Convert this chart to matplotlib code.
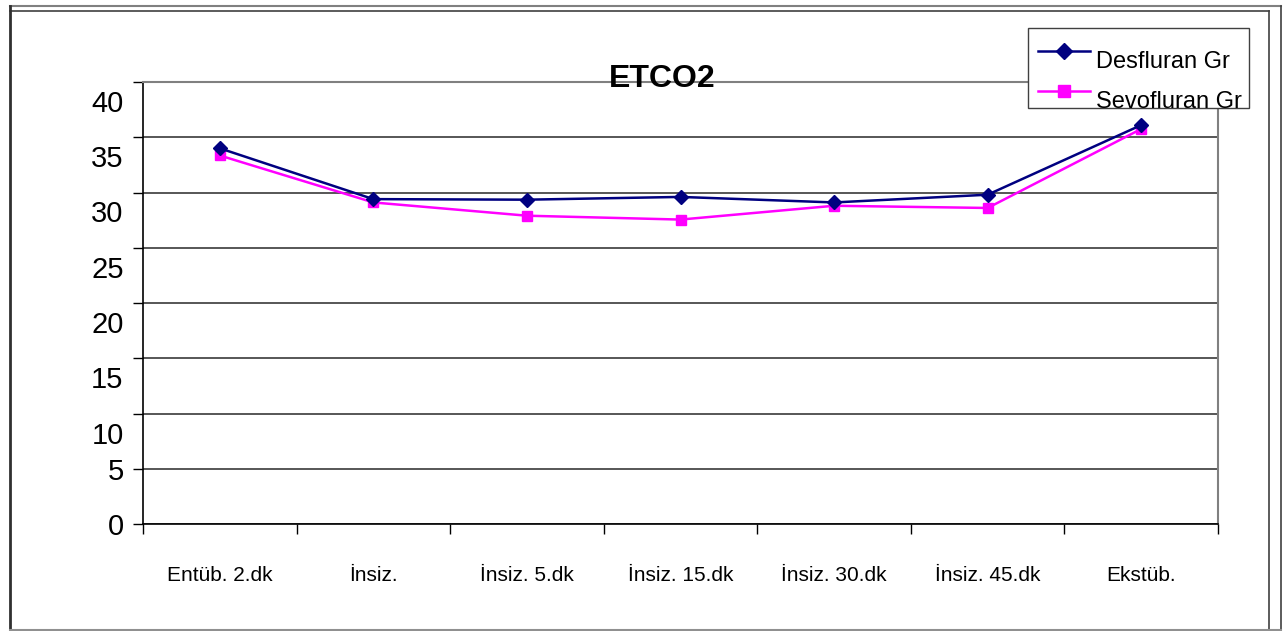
import matplotlib
matplotlib.use("Agg")
import matplotlib.pyplot as plt
from matplotlib.lines import Line2D
from matplotlib.patches import Rectangle
from matplotlib.transforms import ScaledTranslation

plt.rcParams['font.family'] = ['Liberation Sans', 'DejaVu Sans']

# --- Data ---
categories = ["Entüb. 2.dk", "İnsiz.", "İnsiz. 5.dk", "İnsiz. 15.dk",
              "İnsiz. 30.dk", "İnsiz. 45.dk", "Ekstüb."]
desfluran = [34.0, 29.4, 29.35, 29.6, 29.1, 29.8, 36.1]
sevofluran = [33.35, 29.1, 27.9, 27.55, 28.8, 28.6, 35.75]
series_names = ["Desfluran Gr", "Sevofluran Gr"]
y_ticks = [0, 5, 10, 15, 20, 25, 30, 35, 40]

W, H, DPI = 1287, 631, 100
fig = plt.figure(figsize=(W / DPI, H / DPI), dpi=DPI)
ax = fig.add_axes([143 / W, 1 - 524 / H, (1218 - 143) / W, (524 - 82) / H])

x = list(range(len(categories)))
line_des, = ax.plot(x, desfluran, color='#000080', lw=1.8, marker='D',
                    ms=7, zorder=4)
line_sevo, = ax.plot(x, sevofluran, color='#ff00ff', lw=1.8, marker='s',
                     ms=7.5, zorder=3)

ax.set_xlim(-0.5, len(categories) - 0.5)
ax.set_ylim(0, 40)

# horizontal grid
ax.set_yticks(y_ticks)
ax.set_yticklabels([str(v) for v in y_ticks], fontsize=21)
ax.yaxis.grid(True, color='#282828', lw=1.1)
ax.set_axisbelow(True)
ax.tick_params(axis='y', direction='out', length=7, width=1, pad=7)
# the upper labels sit a bit below their gridlines
for lab, v in zip(ax.get_yticklabels(), y_ticks):
    if v >= 10:
        lab.set_transform(lab.get_transform() +
                          ScaledTranslation(0, -0.19, fig.dpi_scale_trans))

# category labels centred, ticks between categories
ax.set_xticks(x)
ax.set_xticklabels(categories, fontsize=15)
ax.tick_params(axis='x', which='major', length=0, pad=30)
ax.set_xticks([i - 0.5 for i in range(len(categories) + 1)], minor=True)
ax.tick_params(axis='x', which='minor', direction='out', length=7, width=1)

for side in ['left', 'bottom']:
    ax.spines[side].set_color('black')
    ax.spines[side].set_linewidth(1.2)
for side in ['top', 'right']:
    ax.spines[side].set_color('#808080')
    ax.spines[side].set_linewidth(1.5)

fig.text(662 / W, 1 - 79 / H, "ETCO2", fontsize=23, fontweight='bold',
         ha='center', va='center', zorder=10)

# legend box
fig.patches.append(Rectangle((1028 / W, 1 - 108 / H), (1249 - 1028) / W,
                             (108 - 28) / H, transform=fig.transFigure,
                             facecolor='white', edgecolor='#404040', lw=1,
                             zorder=5))
for ln, name, yy in [(line_des, series_names[0], 51),
                     (line_sevo, series_names[1], 91)]:
    fy = 1 - yy / H
    fig.lines.append(Line2D([1038 / W, 1090 / W], [fy, fy],
                            transform=fig.transFigure, color=ln.get_color(),
                            lw=ln.get_linewidth(), zorder=6))
    fig.lines.append(Line2D([1064 / W], [fy], transform=fig.transFigure,
                            color=ln.get_color(), marker=ln.get_marker(),
                            ms=ln.get_markersize() + 1, zorder=7))
    fig.text(1096 / W, 1 - (yy + 11) / H, name, fontsize=17,
             ha='left', va='center', zorder=8)

# outer chart frame
frame_lines = [
    ([10, 1281], [6, 6], '#808080', 1.5),
    ([10, 1269], [11, 11], '#404040', 1.2),
    ([10, 10], [6, 630], '#303030', 2.0),
    ([1269, 1269], [11, 630], '#404040', 1.2),
    ([1281, 1281], [6, 630], '#404040', 1.2),
    ([10, 1281], [630, 630], '#909090', 1.5),
]
for xs, ys, c, w in frame_lines:
    fig.lines.append(Line2D([v / W for v in xs], [1 - v / H for v in ys],
                            transform=fig.transFigure, color=c, lw=w))

fig.savefig("out.png", dpi=DPI)
